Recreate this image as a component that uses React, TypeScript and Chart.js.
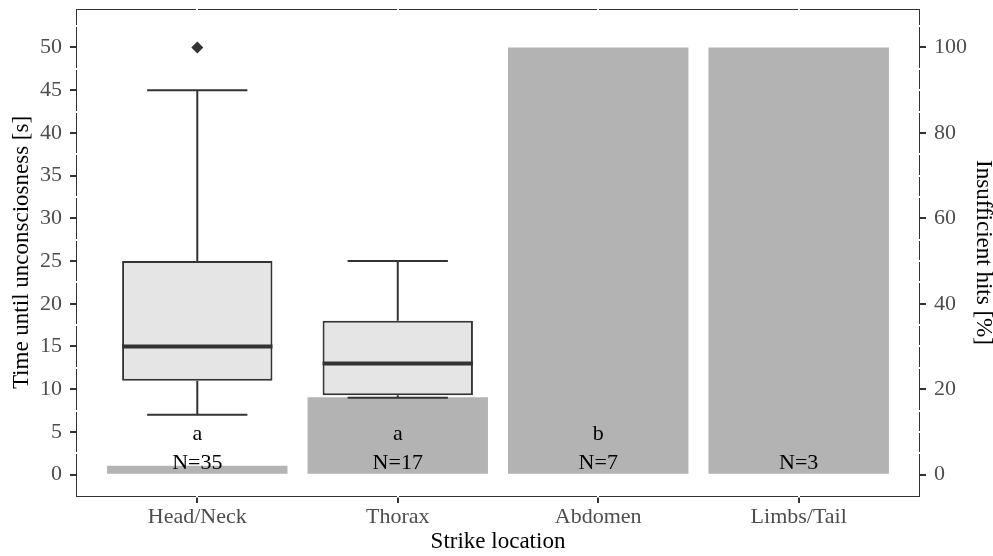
import React, { useEffect, useRef } from "react";
import { Chart, registerables } from "chart.js";

Chart.register(...registerables);

const FONT = "'Liberation Serif', 'Times New Roman', serif";

// ---- data ----
const categories = ["Head/Neck", "Thorax", "Abdomen", "Limbs/Tail"];
const insufficientPct = [2.1, 18.1, 100, 100];
const groupLetters = ["a", "a", "b", ""];
const sampleSizes = [35, 17, 7, 3];

const boxCategories = [0, 1];
const whiskerLow = [7, 9];
const q1 = [11, 9.3];
const median = [15, 13];
const q3 = [25, 18];
const whiskerHigh = [45, 25];

const outlierCategories = [0];
const outlierValues = [50];

const leftTicks = [0, 5, 10, 15, 20, 25, 30, 35, 40, 45, 50];
const leftMinorTicks = [2.5, 7.5, 12.5, 17.5, 22.5, 27.5, 32.5, 37.5, 42.5, 47.5, 52.5];
const rightTicks = [0, 20, 40, 60, 80, 100];

const BOX_HALF = 0.375;
const CAP_HALF = 0.25;

function buildWhiskers() {
  const pts: any[] = [];
  boxCategories.forEach((c, i) => {
    pts.push({ x: c, y: q3[i] }, { x: c, y: whiskerHigh[i] }, { x: c, y: null });
    pts.push({ x: c, y: whiskerLow[i] }, { x: c, y: q1[i] }, { x: c, y: null });
    pts.push({ x: c - CAP_HALF, y: whiskerHigh[i] }, { x: c + CAP_HALF, y: whiskerHigh[i] }, { x: c, y: null });
    pts.push({ x: c - CAP_HALF, y: whiskerLow[i] }, { x: c + CAP_HALF, y: whiskerLow[i] }, { x: c, y: null });
  });
  return pts;
}

function buildMedians() {
  const pts: any[] = [];
  boxCategories.forEach((c, i) => {
    pts.push({ x: c - BOX_HALF, y: median[i] }, { x: c + BOX_HALF, y: median[i] }, { x: c, y: null });
  });
  return pts;
}

const panelPlugin = {
  id: "panelDecor",
  afterDatasetsDraw(chart: any) {
    const { ctx, chartArea, scales } = chart;
    const xs = scales.x;
    const ys = scales.y;
    const L = Math.round(chartArea.left) - 0.5;
    const R = Math.round(chartArea.right) + 0.5;
    const T = Math.round(chartArea.top) + 0.5;
    const B = Math.round(chartArea.bottom) + 0.5;
    ctx.save();
    ctx.strokeStyle = "#333333";
    ctx.lineWidth = 1;
    ctx.strokeRect(L, T, R - L, B - T);

    // white grid-line ends crossing the border
    ctx.fillStyle = "#ffffff";
    categories.forEach((_, i) => {
      const px = Math.round(xs.getPixelForValue(i));
      ctx.fillRect(px - 1, T - 1, 2, 2);
      ctx.fillRect(px - 1, B - 1, 2, 2);
    });
    leftMinorTicks.forEach((v) => {
      const py = Math.round(ys.getPixelForValue(v));
      ctx.fillRect(L - 1, py - 1, 2, 2);
    });
    [...leftTicks, ...leftMinorTicks].forEach((v) => {
      if (v % 10 === 0) return;
      const py = Math.round(ys.getPixelForValue(v));
      ctx.fillRect(R - 1, py - 1, 2, 2);
    });

    // annotations
    ctx.fillStyle = "#000000";
    ctx.font = `22px ${FONT}`;
    ctx.textAlign = "center";
    ctx.textBaseline = "alphabetic";
    categories.forEach((_, i) => {
      const px = xs.getPixelForValue(i);
      if (groupLetters[i]) ctx.fillText(groupLetters[i], px, ys.getPixelForValue(4.05));
      ctx.fillText(`N=${sampleSizes[i]}`, px, ys.getPixelForValue(0.62));
    });
    ctx.restore();
  },
};

export default function App() {
  const canvasRef = useRef<HTMLCanvasElement | null>(null);

  useEffect(() => {
    if (!canvasRef.current) return;
    const tickFont = { family: FONT, size: 22 };
    const titleFont = { family: FONT, size: 23 };
    const chart = new Chart(canvasRef.current, {
      type: "bar",
      data: {
        datasets: [
          {
            type: "bar",
            label: "Insufficient hits",
            data: categories.map((_, i) => ({ x: i, y: insufficientPct[i] })),
            xAxisID: "x",
            yAxisID: "y2",
            backgroundColor: "#b3b3b3",
            borderWidth: 0,
            barPercentage: 0.9,
            categoryPercentage: 1,
            grouped: false,
            order: 10,
          } as any,
          {
            type: "line",
            label: "whiskers",
            data: buildWhiskers(),
            xAxisID: "x",
            yAxisID: "y",
            borderColor: "#333333",
            borderWidth: 2,
            pointRadius: 0,
            fill: false,
            spanGaps: false,
            tension: 0,
            order: 8,
          } as any,
          {
            type: "bar",
            label: "box",
            data: boxCategories.map((c, i) => ({ x: c, y: [q1[i], q3[i]] })),
            xAxisID: "x",
            yAxisID: "y",
            backgroundColor: "#e5e5e5",
            borderColor: "#333333",
            borderWidth: 2,
            borderSkipped: false,
            barPercentage: 0.75,
            categoryPercentage: 1,
            grouped: false,
            order: 6,
          } as any,
          {
            type: "line",
            label: "median",
            data: buildMedians(),
            xAxisID: "x",
            yAxisID: "y",
            borderColor: "#333333",
            borderWidth: 4,
            pointRadius: 0,
            fill: false,
            spanGaps: false,
            tension: 0,
            order: 4,
          } as any,
          {
            type: "scatter",
            label: "outliers",
            data: outlierCategories.map((c, i) => ({ x: c, y: outlierValues[i] })),
            xAxisID: "x",
            yAxisID: "y",
            pointStyle: "rectRot",
            pointRadius: 6,
            backgroundColor: "#333333",
            borderColor: "#333333",
            borderWidth: 0,
            showLine: false,
            order: 2,
          } as any,
        ],
      },
      options: {
        animation: false,
        responsive: true,
        maintainAspectRatio: false,
        layout: { padding: { top: 9, left: 0, right: 0, bottom: 0 } },
        plugins: { legend: { display: false }, tooltip: { enabled: false } },
        scales: {
          x: {
            type: "linear",
            position: "bottom",
            min: -0.6,
            max: 3.6,
            offset: false,
            bounds: "data",
            afterBuildTicks: (s: any) => {
              s.ticks = categories.map((_, i) => ({ value: i }));
            },
            afterFit: (s: any) => {
              s.height = 60;
              s.paddingLeft = 0;
              s.paddingRight = 0;
            },
            ticks: {
              callback: (v: any) => categories[Math.round(Number(v))] ?? "",
              color: "#4d4d4d",
              font: tickFont,
              padding: 1,
              maxRotation: 0,
              autoSkip: false,
            },
            grid: { drawOnChartArea: false, drawTicks: true, tickLength: 7, color: "#333333", lineWidth: 2, offset: false },
            border: { display: false },
            title: { display: true, text: "Strike location", color: "#000000", font: titleFont, padding: { top: 0, bottom: 0 } },
          },
          y: {
            type: "linear",
            position: "left",
            min: -2.5,
            max: 54.5,
            bounds: "data",
            afterBuildTicks: (s: any) => {
              s.ticks = leftTicks.map((v) => ({ value: v }));
            },
            afterFit: (s: any) => {
              s.width = 77;
              s.paddingTop = 0;
              s.paddingBottom = 0;
            },
            ticks: { color: "#4d4d4d", font: tickFont, padding: 8, autoSkip: false },
            grid: { drawOnChartArea: false, drawTicks: true, tickLength: 7, color: "#333333", lineWidth: 2 },
            border: { display: false },
            title: { display: true, text: "Time until unconsciosness [s]", color: "#000000", font: titleFont, padding: { top: 8, bottom: 0 } },
          },
          y2: {
            type: "linear",
            position: "right",
            min: -5,
            max: 109,
            bounds: "data",
            afterBuildTicks: (s: any) => {
              s.ticks = rightTicks.map((v) => ({ value: v }));
            },
            afterFit: (s: any) => {
              s.width = 74;
              s.paddingTop = 0;
              s.paddingBottom = 0;
            },
            ticks: { color: "#4d4d4d", font: tickFont, padding: 8, autoSkip: false },
            grid: { drawOnChartArea: false, drawTicks: true, tickLength: 7, color: "#333333", lineWidth: 2 },
            border: { display: false },
            title: { display: true, text: "Insufficient hits [%]", color: "#000000", font: titleFont, padding: { top: -4, bottom: 0 } },
          },
        },
      } as any,
      plugins: [panelPlugin],
    });
    return () => chart.destroy();
  }, []);

  return (
    <div style={{ position: "fixed", left: 0, top: 0, width: 993, height: 556, background: "#ffffff" }}>
      <canvas ref={canvasRef} />
    </div>
  );
}
